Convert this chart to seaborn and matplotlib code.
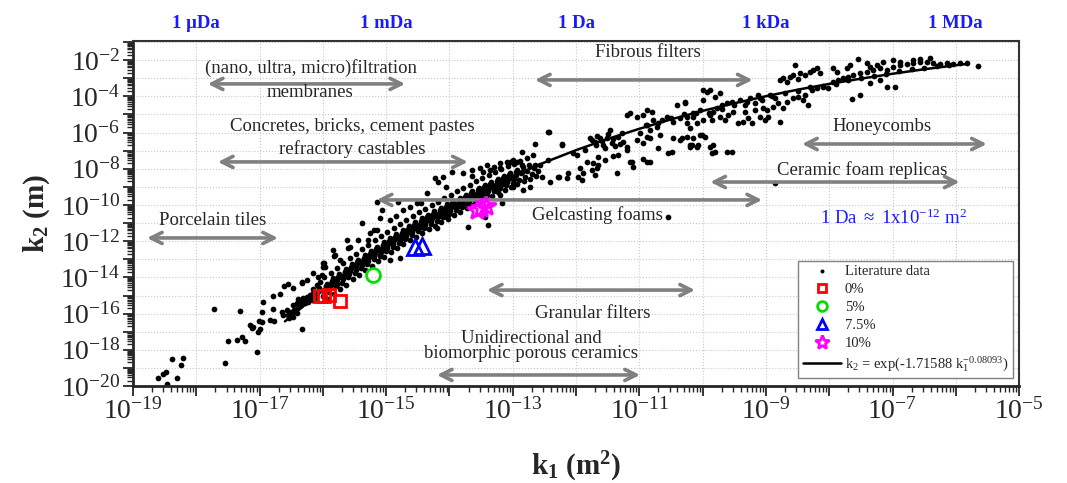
import numpy as np
import pandas as pd
import seaborn as sns
import matplotlib.pyplot as plt
from matplotlib import ticker
from matplotlib import transforms as mtransforms

# --- data, all values as log10(k1 [m^2]), log10(k2 [m]) ---
LOW_TAIL = [
    (-18.61, -19.56), (-18.53, -19.34), (-18.48, -19.23), (-18.38, -18.51), (-18.24, -18.84),
    (-18.21, -18.45), (-18.30, -19.56), (-18.46, -19.89), (-17.72, -15.75), (-17.55, -18.73),
    (-17.50, -17.51), (-17.36, -17.46), (-17.28, -17.29), (-17.23, -17.51), (-17.31, -15.86),
    (-17.04, -18.12), (-17.15, -16.63), (-17.12, -16.80), (-17.10, -16.74), (-17.03, -17.02),
    (-16.99, -16.85), (-16.96, -16.46), (-17.01, -16.41), (-16.96, -15.91), (-16.95, -15.36),
    (-16.79, -15.03), (-16.79, -15.75), (-16.84, -16.35), (-16.77, -16.41), (-16.68, -14.92),
    (-16.61, -14.48), (-16.55, -14.36), (-16.47, -14.59), (-16.33, -14.31), (-16.65, -15.91),
    (-16.63, -16.08), (-16.57, -15.80), (-16.54, -16.24), (-16.47, -16.19), (-16.41, -15.97),
    (-16.39, -15.58), (-16.33, -16.85), (-16.36, -15.25), (-16.31, -15.14), (-16.25, -15.08),
    (-16.20, -14.97), (-16.16, -14.86), (-16.28, -15.41), (-16.24, -15.36), (-16.17, -15.25),
    (-16.41, -15.41), (-16.47, -15.53), (-16.16, -14.64), (-16.09, -14.42), (-16.05, -14.25),
    (-16.01, -13.87), (-16.08, -13.98), (-16.00, -13.43), (-15.98, -13.20), (-15.82, -12.82),
    (-16.45, -15.80), (-16.40, -15.65), (-16.35, -15.50), (-16.30, -15.30), (-16.22, -15.20),
    (-16.14, -15.00), (-16.10, -14.85), (-16.06, -14.60), (-16.12, -15.15), (-16.40, -15.20),
    (-16.50, -15.90), (-16.55, -16.05),
]

BAND_CORE = [
    (-16.00, -15.05), (-15.97, -14.70), (-15.94, -14.35), (-15.90, -14.80), (-15.87, -14.40),
    (-15.84, -14.05), (-15.80, -14.50), (-15.77, -14.15), (-15.74, -13.80), (-15.70, -14.30),
    (-15.67, -13.90), (-15.64, -13.55), (-15.60, -14.00), (-15.57, -13.62), (-15.54, -13.25),
    (-15.50, -13.75), (-15.47, -13.38), (-15.44, -13.02), (-15.40, -13.50), (-15.37, -13.12),
    (-15.34, -12.78), (-15.30, -13.25), (-15.27, -12.88), (-15.24, -12.52), (-15.20, -13.00),
    (-15.17, -12.65), (-15.14, -12.30), (-15.10, -12.80), (-15.07, -12.42), (-15.04, -12.05),
    (-15.00, -12.55), (-14.97, -12.18), (-14.94, -11.82), (-14.90, -12.32), (-14.87, -11.95),
    (-14.84, -11.60), (-14.80, -12.10), (-14.77, -11.73), (-14.74, -11.38), (-14.70, -11.88),
    (-14.67, -11.52), (-14.64, -11.15), (-14.60, -11.68), (-14.57, -11.30), (-14.54, -10.95),
    (-14.50, -11.46), (-14.47, -11.10), (-14.44, -10.74), (-14.40, -11.26), (-14.37, -10.90),
    (-14.34, -10.55), (-14.30, -11.06), (-14.27, -10.70), (-14.24, -10.35), (-14.20, -10.86),
    (-14.17, -10.50), (-14.14, -10.16), (-14.10, -10.68), (-14.07, -10.31), (-14.04, -9.97),
    (-14.00, -10.48), (-13.97, -10.12), (-13.94, -9.78), (-13.90, -10.30), (-13.87, -9.93),
    (-13.84, -9.60), (-13.80, -10.12), (-13.77, -9.75), (-13.74, -9.42), (-13.70, -9.94),
    (-13.67, -9.57), (-13.64, -9.24), (-13.60, -9.76), (-13.57, -9.40), (-13.54, -9.06),
    (-13.50, -9.58), (-13.47, -9.22), (-13.44, -8.88), (-13.40, -9.42), (-13.37, -9.05),
    (-13.34, -8.72), (-13.30, -9.25), (-13.27, -8.88), (-13.24, -8.55), (-13.20, -9.08),
    (-13.17, -8.72), (-13.14, -8.40), (-13.10, -8.92), (-13.07, -8.56), (-13.04, -8.24),
    (-13.00, -8.76), (-12.97, -8.40), (-12.94, -8.08), (-12.90, -8.60), (-12.87, -8.25),
    (-12.84, -7.92), (-12.80, -8.45), (-12.77, -8.10), (-12.74, -7.78), (-12.70, -8.28),
    (-12.67, -7.94), (-12.60, -8.12), (-12.57, -7.80),
    (-15.95, -14.55), (-15.85, -14.25), (-15.75, -14.00), (-15.65, -13.72), (-15.55, -13.48),
    (-15.45, -13.22), (-15.35, -12.98), (-15.25, -12.72), (-15.15, -12.50), (-15.05, -12.28),
    (-14.95, -12.05), (-14.85, -11.82), (-14.75, -11.62), (-14.65, -11.40), (-14.55, -11.20),
    (-14.45, -11.00), (-14.35, -10.80), (-14.25, -10.60), (-14.15, -10.40), (-14.05, -10.22),
    (-13.95, -10.03), (-13.85, -9.85), (-13.75, -9.67), (-13.65, -9.50), (-13.55, -9.32),
    (-13.45, -9.15), (-13.35, -8.98), (-13.25, -8.82), (-13.15, -8.65), (-13.05, -8.50),
    (-12.95, -8.33), (-12.85, -8.18),
]

BAND_FILL = [
    (-15.985, -14.88), (-15.955, -14.48), (-15.885, -14.61), (-15.855, -14.21),
    (-15.785, -14.35), (-15.755, -13.95), (-15.685, -14.09), (-15.655, -13.69),
    (-15.585, -13.83), (-15.555, -13.43), (-15.485, -13.57), (-15.455, -13.17),
    (-15.385, -13.33), (-15.355, -12.93), (-15.285, -13.08), (-15.255, -12.68),
    (-15.185, -12.84), (-15.155, -12.44), (-15.085, -12.61), (-15.055, -12.21),
    (-14.985, -12.38), (-14.955, -11.98), (-14.885, -12.15), (-14.855, -11.75),
    (-14.785, -11.93), (-14.755, -11.53), (-14.685, -11.71), (-14.655, -11.31),
    (-14.585, -11.50), (-14.555, -11.10), (-14.485, -11.29), (-14.455, -10.89),
    (-14.385, -11.09), (-14.355, -10.69), (-14.285, -10.89), (-14.255, -10.49),
    (-14.185, -10.69), (-14.155, -10.29), (-14.085, -10.50), (-14.055, -10.10),
    (-13.985, -10.31), (-13.955, -9.91), (-13.885, -10.12), (-13.855, -9.72),
    (-13.785, -9.94), (-13.755, -9.54), (-13.685, -9.76), (-13.655, -9.36),
    (-13.585, -9.58), (-13.555, -9.18), (-13.485, -9.41), (-13.455, -9.01),
    (-13.385, -9.24), (-13.355, -8.84), (-13.285, -9.07), (-13.255, -8.67),
    (-13.185, -8.91), (-13.155, -8.51), (-13.085, -8.75), (-13.055, -8.35),
    (-12.985, -8.59), (-12.955, -8.19),
]

BAND_WIDE = [
    (-15.98, -14.00), (-15.93, -15.20), (-15.88, -13.73), (-15.83, -14.90), (-15.78, -13.47),
    (-15.73, -14.65), (-15.68, -13.21), (-15.63, -14.40), (-15.58, -12.95), (-15.53, -14.10),
    (-15.48, -12.69), (-15.43, -13.85), (-15.38, -12.45), (-15.33, -13.60), (-15.28, -12.20),
    (-15.23, -13.35), (-15.18, -11.96), (-15.13, -13.10), (-15.08, -11.73), (-15.03, -12.85),
    (-14.98, -11.50), (-14.93, -12.62), (-14.88, -11.27), (-14.83, -12.40), (-14.78, -11.05),
    (-14.73, -12.18), (-14.68, -10.83), (-14.63, -11.95), (-14.58, -10.62), (-14.53, -11.75),
    (-14.48, -10.41), (-14.43, -11.55), (-14.38, -10.21), (-14.33, -11.35), (-14.28, -10.01),
    (-14.23, -11.15), (-14.18, -9.81), (-14.13, -10.95), (-14.08, -9.62), (-14.03, -10.75),
    (-13.98, -9.43), (-13.93, -10.55), (-13.88, -9.24), (-13.83, -10.37), (-13.78, -9.06),
    (-13.73, -10.18), (-13.68, -8.88), (-13.63, -10.00), (-13.58, -8.70), (-13.53, -9.82),
    (-13.48, -8.53), (-13.43, -9.65), (-13.38, -8.36), (-13.33, -9.48), (-13.28, -8.19),
    (-13.23, -9.30), (-13.18, -8.03), (-13.13, -9.15), (-13.08, -7.87), (-13.03, -9.00),
    (-12.98, -7.71), (-12.93, -8.85), (-12.88, -7.55), (-12.83, -8.70), (-12.78, -7.40),
    (-12.73, -8.55), (-12.68, -7.24), (-12.63, -8.40),
    (-15.60, -12.40), (-15.20, -11.40), (-14.85, -10.60), (-14.45, -9.90), (-14.05, -9.00),
    (-13.65, -8.40), (-13.30, -7.90),
]

BAND_HALO = [
    (-15.38, -10.99), (-15.10, -10.72), (-15.07, -10.28), (-14.94, -10.83), (-14.81, -9.83),
    (-14.73, -10.28), (-14.62, -10.11), (-14.51, -9.89), (-14.36, -9.34), (-14.23, -8.51),
    (-14.18, -8.73), (-14.10, -8.45), (-13.96, -8.18), (-13.79, -8.23), (-13.64, -8.07),
    (-13.52, -7.96), (-13.41, -7.79), (-13.20, -7.68), (-13.09, -7.62), (-13.00, -7.51),
    (-15.57, -12.32), (-15.62, -11.93), (-15.45, -11.93), (-15.29, -11.93), (-15.26, -11.55),
    (-15.15, -11.38), (-15.81, -12.76), (-15.84, -12.49), (-16.00, -13.20), (-15.97, -13.43),
    (-15.73, -13.04), (-16.16, -13.76), (-16.25, -14.14), (-16.33, -14.25), (-14.94, -13.04),
    (-14.78, -12.93), (-14.20, -11.27), (-14.04, -10.66), (-13.71, -11.22), (-13.39, -11.10),
    (-13.44, -10.66), (-15.10, -12.76), (-15.41, -13.15), (-15.15, -9.83), (-13.17, -9.89),
    (-13.04, -7.62), (-12.93, -7.62), (-12.85, -7.79), (-13.20, -7.96), (-13.36, -8.07),
    (-13.47, -8.18), (-12.65, -7.79), (-12.73, -9.00), (-12.54, -8.45), (-12.41, -8.73),
    (-12.29, -8.45), (-12.84, -9.17), (-13.00, -9.00), (-13.20, -9.45), (-13.31, -9.00),
]

MID = [
    (-12.85, -7.07), (-12.65, -6.63), (-12.43, -5.97), (-12.22, -6.63), (-12.44, -7.51),
    (-12.27, -8.45), (-12.14, -8.51), (-12.13, -8.23), (-11.97, -8.45), (-11.91, -8.62),
    (-11.83, -7.62), (-11.75, -8.07), (-11.67, -7.96), (-11.70, -8.34), (-11.65, -7.79),
    (-11.54, -7.51), (-11.42, -7.29), (-11.34, -7.24), (-11.20, -6.96), (-11.12, -7.62),
    (-11.10, -7.90), (-10.83, -7.62), (-10.94, -7.46), (-11.26, -6.52), (-11.78, -6.30),
    (-11.70, -6.52), (-11.62, -6.30), (-11.57, -6.69), (-11.51, -6.30), (-11.43, -6.57),
    (-11.99, -7.24), (-11.86, -6.96), (-11.75, -6.41), (-11.67, -6.19), (-11.59, -6.46),
    (-11.50, -6.08), (-11.42, -6.35), (-11.34, -6.24), (-11.27, -6.02), (-11.39, -6.74),
    (-11.54, -6.85), (-11.31, -6.63), (-11.69, -6.69), (-11.46, -5.86), (-11.15, -4.92),
    (-11.04, -5.14), (-10.94, -5.03), (-10.80, -4.86), (-10.79, -5.30), (-10.88, -5.58),
    (-10.83, -5.86), (-10.72, -5.69), (-10.64, -5.30), (-10.56, -5.14), (-10.47, -5.41),
    (-10.36, -5.19), (-10.25, -5.14), (-10.15, -4.92), (-10.41, -4.48), (-10.28, -4.36),
    (-11.20, -6.80), (-11.04, -6.41), (-10.99, -6.02), (-10.94, -6.57), (-10.88, -6.24),
    (-10.83, -6.30), (-10.67, -6.13), (-10.71, -6.85), (-10.48, -7.07), (-10.47, -6.30),
    (-10.36, -6.41), (-10.20, -6.69), (-10.15, -6.30), (-10.55, -10.66), (-12.44, -5.97),
    (-12.22, -6.69), (-12.05, -7.13), (-11.94, -7.96), (-11.89, -8.23), (-11.73, -7.68),
    (-11.65, -7.35), (-11.35, -8.23), (-11.15, -7.62), (-10.88, -7.62), (-10.55, -7.13),
    (-10.20, -6.80), (-10.09, -6.80), (-9.88, -6.80), (-9.85, -7.13), (-9.62, -7.07),
    (-8.86, -8.78), (-10.25, -6.24), (-10.01, -6.13), (-11.20, -5.03), (-10.88, -4.75),
    (-10.00, -3.65), (-9.81, -4.03), (-10.00, -4.20),
    (-10.90, -5.60), (-10.70, -5.45), (-10.50, -5.20), (-10.30, -5.00), (-10.10, -4.90),
]

UPPER = [
    (-8.54, -2.27), (-7.55, -1.93), (-10.28, -4.31), (-9.93, -3.76), (-9.88, -3.65),
    (-9.73, -3.81), (-9.70, -4.48), (-9.62, -4.36), (-9.54, -4.31), (-10.04, -4.75),
    (-10.15, -5.14), (-10.25, -5.47), (-10.20, -5.75), (-10.09, -5.47), (-10.00, -5.30),
    (-9.88, -5.03), (-9.84, -4.86), (-9.77, -4.64), (-9.85, -5.30), (-9.73, -5.14),
    (-9.65, -5.30), (-9.60, -5.03), (-9.52, -4.86), (-9.44, -5.47), (-9.36, -5.41),
    (-9.28, -5.19), (-9.22, -5.47), (-9.09, -5.14), (-9.02, -5.30), (-8.97, -5.14),
    (-8.98, -4.75), (-8.89, -4.59), (-8.81, -4.36), (-8.73, -4.64), (-8.78, -5.41),
    (-8.67, -4.31), (-8.57, -4.09), (-8.49, -4.03), (-8.42, -4.20), (-8.34, -4.48),
    (-8.38, -3.92), (-8.27, -3.65), (-8.19, -3.54), (-8.10, -3.48), (-8.02, -3.54),
    (-7.94, -3.20), (-7.86, -3.09), (-7.78, -2.98), (-7.70, -2.93), (-7.63, -2.82),
    (-7.51, -2.71), (-7.40, -2.65), (-7.31, -2.54), (-7.20, -2.43), (-7.09, -2.54),
    (-6.99, -2.38), (-6.88, -2.27), (-6.77, -2.21), (-6.68, -2.15), (-6.57, -2.10),
    (-6.46, -2.10), (-6.36, -2.15), (-6.25, -2.21), (-6.14, -2.15), (-6.05, -2.21),
    (-5.94, -2.15), (-5.82, -2.15), (-5.65, -2.32), (-7.64, -4.14), (-7.51, -3.92),
    (-7.09, -3.48), (-6.96, -3.48), (-7.36, -3.26), (-7.20, -3.09), (-10.17, -6.69),
    (-10.07, -6.69), (-10.04, -6.13), (-9.96, -6.24), (-9.84, -6.69), (-9.81, -7.07),
    (-9.54, -7.07), (-10.33, -6.30), (-8.78, -3.09), (-8.73, -2.98), (-8.67, -3.20),
    (-8.62, -2.93), (-8.57, -2.82), (-8.49, -3.04), (-8.46, -2.71), (-8.38, -2.82),
    (-8.30, -2.65), (-8.26, -2.54), (-8.19, -2.43), (-8.15, -2.71), (-7.94, -2.43),
    (-7.88, -2.65), (-7.72, -2.43), (-7.67, -2.27), (-7.40, -2.15), (-7.36, -2.38),
    (-7.25, -2.27), (-7.15, -2.10), (-6.99, -1.99), (-6.88, -2.10), (-6.68, -1.99),
    (-6.57, -1.93), (-6.41, -1.88), (-9.41, -4.20), (-9.33, -4.48), (-9.25, -4.09),
    (-9.17, -4.36), (-9.13, -3.92), (-9.06, -4.20), (-8.94, -3.92), (-8.86, -4.09),
    (-9.33, -4.86), (-9.17, -4.75), (-9.05, -4.64),
    (-9.90, -4.90), (-9.70, -4.70), (-9.50, -4.50), (-9.30, -4.30), (-9.10, -4.10),
    (-8.90, -4.00), (-8.70, -3.80), (-8.50, -3.70), (-8.30, -3.50), (-8.10, -3.40),
    (-7.90, -3.30), (-7.70, -3.10), (-7.50, -3.00), (-7.30, -2.85), (-7.10, -2.75),
    (-6.90, -2.60), (-6.70, -2.50), (-6.50, -2.42), (-6.30, -2.33), (-6.10, -2.28),
]

# fitted curve k2 = exp(-1.71588 k1^-0.08093)
FIT_LOG_K1 = [-16.6, -16.0, -15.5, -15.0, -14.5, -14.0, -13.5, -13.0, -12.5, -12.0, -11.5,
              -11.0, -10.5, -10.0, -9.5, -9.0, -8.5, -8.0, -7.5, -7.0, -6.5, -6.0, -5.8]
FIT_LOG_K2 = [-16.43, -14.70, -13.39, -12.20, -11.11, -10.13, -9.23, -8.41, -7.65, -6.97, -6.35,
              -5.79, -5.27, -4.80, -4.38, -3.99, -3.63, -3.31, -3.02, -2.75, -2.50, -2.28, -2.20]

SAMPLES = {
    "0%":   ([-16.05, -15.98, -15.91, -15.73], [-15.00, -15.00, -14.95, -15.30]),
    "5%":   ([-15.21], [-13.84]),
    "7.5%": ([-14.55, -14.43], [-12.32, -12.27]),
    "10%":  ([-13.57, -13.50, -13.43], [-10.28, -10.15, -10.08]),
}
SAMPLE_STYLE = {
    "0%": dict(marker="s", color="#ff0000", ms=9),
    "5%": dict(marker="o", color="#00e000", ms=10),
    "7.5%": dict(marker="^", color="#0000ff", ms=11),
    "10%": dict(marker="*", color="#ff00ff", ms=15),
}

TOP_UNITS = ["1 \u03bcDa", "1 mDa", "1 Da", "1 kDa", "1 MDa"]
TOP_UNITS_LOG_K1 = [-18, -15, -12, -9, -6]

lit = pd.DataFrame(LOW_TAIL + BAND_CORE + BAND_FILL + BAND_WIDE + BAND_HALO + MID + UPPER,
                   columns=["lk1", "lk2"])
lit["k1"] = 10 ** lit["lk1"]
lit["k2"] = 10 ** lit["lk2"]
fit = pd.DataFrame({"k1": 10 ** np.array(FIT_LOG_K1), "k2": 10 ** np.array(FIT_LOG_K2)})

sns.set_style("ticks")
plt.rcParams["font.family"] = ["Liberation Serif", "DejaVu Serif"]
plt.rcParams["mathtext.fontset"] = "custom"
plt.rcParams["mathtext.rm"] = "Liberation Serif"
plt.rcParams["mathtext.it"] = "Liberation Serif:italic"
plt.rcParams["mathtext.bf"] = "Liberation Serif:bold"

fig = plt.figure(figsize=(10.67, 4.83), dpi=100)
ax = fig.add_axes([0.1247, 0.2008, 0.8304, 0.7143])

sns.scatterplot(data=lit, x="k1", y="k2", ax=ax, color="black", s=17, linewidth=0,
                label="Literature data", zorder=2)
sns.lineplot(data=fit, x="k1", y="k2", ax=ax, color="black", lw=1.8, sort=False,
             label=r"k$_2$ = exp(-1.71588 k$_1^{-0.08093}$)", zorder=3)

for name, (lx, ly) in SAMPLES.items():
    st = SAMPLE_STYLE[name]
    ax.plot(10 ** np.array(lx), 10 ** np.array(ly), ls="none", marker=st["marker"],
            ms=st["ms"], mfc="none", mec=st["color"], mew=2, label=name, zorder=5)

ax.set_xscale("log")
ax.set_yscale("log")
ax.set_xlim(1e-19, 1e-5)
ax.set_ylim(1e-20, 10 ** -0.94)

def fmt_x(v, pos):
    e = int(round(np.log10(v)))
    return r"$\mathregular{10^{%d}}$" % e if e % 2 else ""

def fmt_y(v, pos):
    e = int(round(np.log10(v)))
    return r"$\mathregular{10^{%d}}$" % e if e % 2 == 0 else ""

for axis, f in ((ax.xaxis, fmt_x), (ax.yaxis, fmt_y)):
    axis.set_major_locator(ticker.LogLocator(base=10, numticks=40))
    axis.set_minor_locator(ticker.LogLocator(base=10, subs=np.arange(2, 10), numticks=40))
    axis.set_major_formatter(ticker.FuncFormatter(f))
    axis.set_minor_formatter(ticker.NullFormatter())

ax.tick_params(which="major", direction="out", length=7, width=1.3, labelsize=20, pad=2)
ax.tick_params(which="minor", direction="out", length=4, width=1.0)
ax.tick_params(top=False, right=False, which="both")
ax.grid(True, which="major", ls=":", lw=0.8, color="#c8c8c8")
for side in ["left", "bottom"]:
    ax.spines[side].set_linewidth(2)
for side in ["top", "right"]:
    ax.spines[side].set_linewidth(1.5)
    ax.spines[side].set_color("#333333")

ax.set_xlabel(r"$\mathbf{k_1\ (m^2)}$", fontsize=21, labelpad=18)
ax.set_ylabel(r"$\mathbf{k_2\ (m)}$", fontsize=21, labelpad=6)

trans = mtransforms.blended_transform_factory(ax.transData, ax.transAxes)
for lab, lx in zip(TOP_UNITS, TOP_UNITS_LOG_K1):
    ax.text(10 ** lx, 1.052, lab, transform=trans, ha="center", va="center",
            color="#1a1aff", fontsize=13.5, fontweight="bold")

# ranges of porous materials
arrows = [
    (-17.82, -14.70, -3.31), (-17.66, -13.71, -7.62), (-18.78, -16.71, -11.82),
    (-15.15, -9.06, -9.72), (-12.65, -9.21, -3.09), (-8.43, -5.51, -6.63),
    (-9.88, -5.94, -8.73), (-13.41, -10.12, -14.70), (-14.20, -10.99, -19.39),
]
for x0, x1, y in arrows:
    ax.annotate("", xy=(10 ** x1, 10 ** y), xytext=(10 ** x0, 10 ** y),
                arrowprops=dict(arrowstyle="<->", color="#808080", lw=2.6,
                                mutation_scale=20, shrinkA=0, shrinkB=0), zorder=4)

labels = [
    ("(nano, ultra, micro)filtration", -16.19, -2.43), ("membranes", -16.20, -3.76),
    ("Concretes, bricks, cement pastes", -15.54, -5.64), ("refractory castables", -15.54, -6.91),
    ("Porcelain tiles", -17.75, -10.83), ("Gelcasting foams", -11.67, -10.55),
    ("Fibrous filters", -10.86, -1.60), ("Honeycombs", -7.17, -5.69),
    ("Ceramic foam replicas", -7.48, -8.07), ("Granular filters", -11.73, -15.97),
    ("Unidirectional and", -12.71, -17.35), ("biomorphic porous ceramics", -12.71, -18.23),
]
for txt, lx, ly in labels:
    ax.text(10 ** lx, 10 ** ly, txt, ha="center", va="center", fontsize=13.5, zorder=4)

ax.text(10 ** -6.98, 10 ** -10.72, r"1 Da $\approx$ 1x10$^{-12}$ m$^2$", ha="center",
        va="center", fontsize=13.5, color="#1a1aff")

handles, names = ax.get_legend_handles_labels()
order = ["Literature data", "0%", "5%", "7.5%", "10%", names[1]]
hmap = dict(zip(names, handles))
leg = ax.legend([hmap[n] for n in order], order, loc="lower right",
                bbox_to_anchor=(0.993, 0.023), fontsize=10.5, frameon=True, fancybox=False,
                edgecolor="#808080", framealpha=1, labelspacing=0.32, handlelength=2.6,
                handletextpad=0.3, borderpad=0.3, borderaxespad=0, markerscale=0.7)
leg.get_frame().set_linewidth(1.0)

fig.savefig("out.png", dpi=100)
